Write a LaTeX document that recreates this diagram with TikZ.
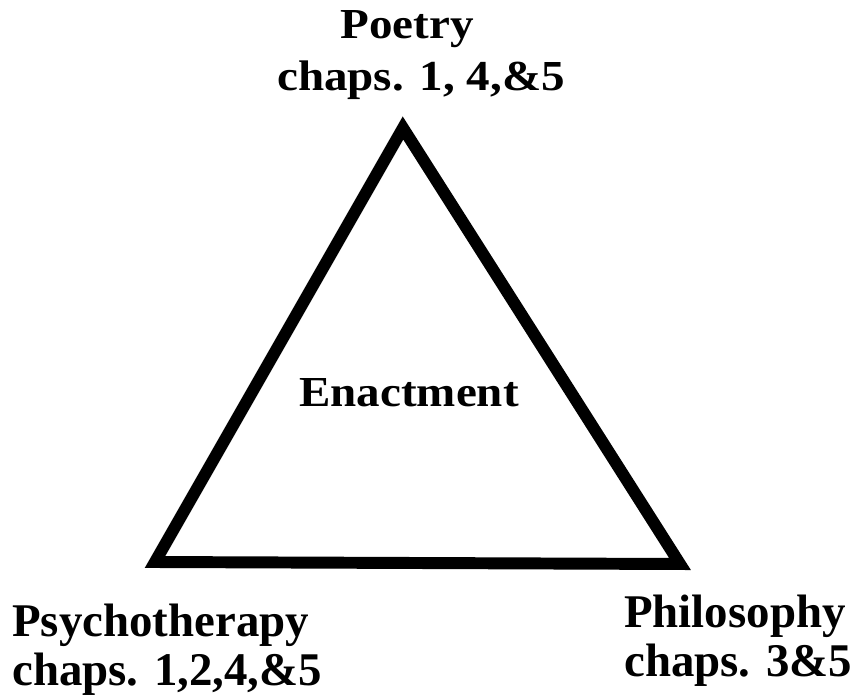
\documentclass[tikz,border=0pt]{standalone}
\usepackage{fontspec}
\setmainfont{Liberation Serif}
\newfontfamily\widefont[FakeStretch=1.1]{Liberation Serif}
\tikzset{
  edge/.style={line width=10.2pt,miter limit=20,line join=miter},
  toplab/.style={inner sep=0pt,align=center,font=\widefont\bfseries\fontsize{36.5}{45}\selectfont},
  lowlab/.style={inner sep=0pt,align=left,font=\bfseries\fontsize{40}{41.5}\selectfont}
}
\begin{document}
\begin{tikzpicture}[x=0.03cm,y=-0.03cm]
\useasboundingbox (0,0) rectangle (854,695);
% corners of the triangle
\coordinate (apex) at (403,128);
\coordinate (left) at (155,562);
\coordinate (right) at (680,564);
\draw[edge] (apex)--(left)--(right)--cycle;
% labels
\node[toplab,anchor=north] (poetry) at (421,10) {Poetry\hspace*{24pt}\\chaps. 1, 4,\&5};
\node[toplab,anchor=base] (enact) at (409,406) {Enactment};
\node[lowlab,anchor=north west] (psych) at (12,604) {Psychotherapy\\chaps. 1,2,4,\&5};
\node[lowlab,anchor=north west] (philo) at (624,595) {Philosophy\\chaps. 3\&5};
\end{tikzpicture}
\end{document}
